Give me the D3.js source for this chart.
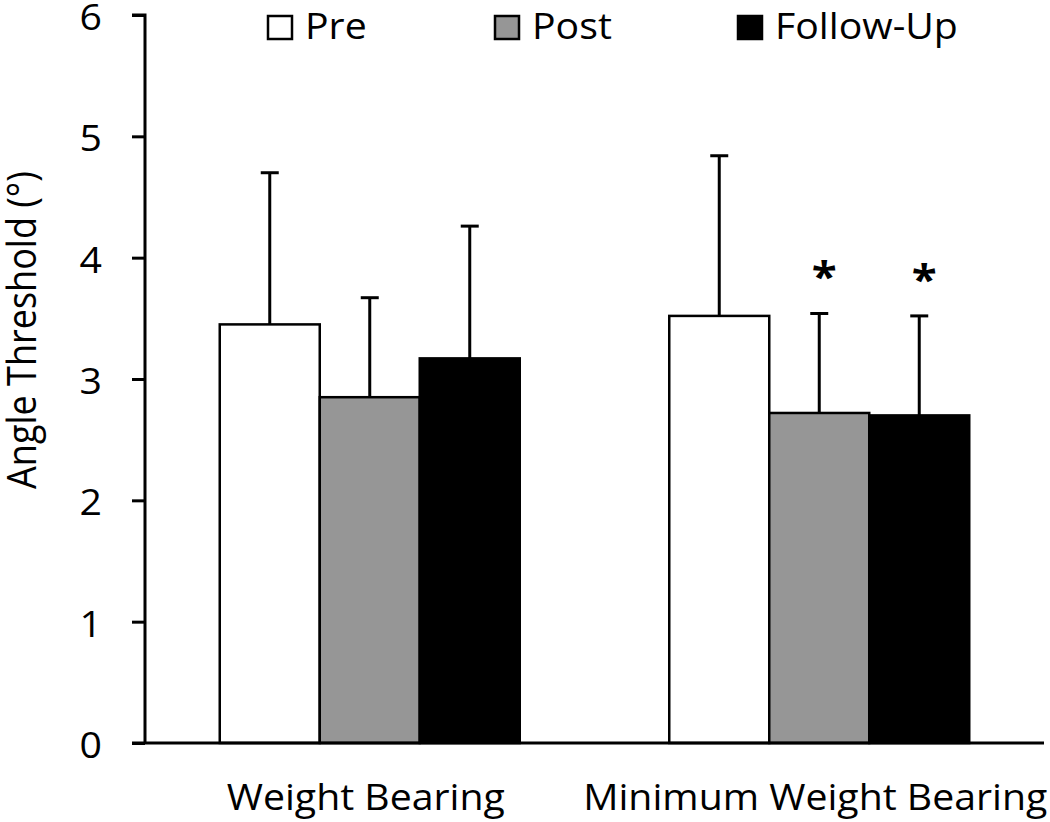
<!DOCTYPE html>
<html>
<head>
<meta charset="utf-8">
<script src="https://cdn.jsdelivr.net/npm/d3@7/dist/d3.min.js"></script>
<style>
  html, body { margin: 0; padding: 0; background: #fff; }
  svg { display: block; }
  text { font-family: "Open Sans", "Noto Sans", sans-serif; fill: #000; }
</style>
</head>
<body>
<svg id="chart" width="1050" height="822"></svg>
<script>
// ---- data ----
const categories = ["Weight Bearing", "Minimum Weight Bearing"];
const seriesNames = ["Pre", "Post", "Follow-Up"];
const preValues = [3.45, 3.52];
const postValues = [2.85, 2.72];
const followUpValues = [3.17, 2.70];
const preErrTop = [4.70, 4.84];
const postErrTop = [3.67, 3.54];
const followUpErrTop = [4.26, 3.52];
const significant = [[false, false, false], [false, true, true]];
const yTicks = [0, 1, 2, 3, 4, 5, 6];
const yTitle = "Angle Threshold (°)";

const seriesColors = ["#ffffff", "#969696", "#000000"];

const rows = categories.map((c, i) => ({
  category: c,
  bars: [
    { series: seriesNames[0], value: preValues[i], err: preErrTop[i], sig: significant[i][0] },
    { series: seriesNames[1], value: postValues[i], err: postErrTop[i], sig: significant[i][1] },
    { series: seriesNames[2], value: followUpValues[i], err: followUpErrTop[i], sig: significant[i][2] }
  ]
}));

// ---- layout ----
const svg = d3.select("#chart");
const axisX = 145, plotRight = 1044, plotTop = 15, plotBottom = 743;
const FS = 36;
const SX = 1.09; // horizontal stretch of lettering

const y = d3.scaleLinear().domain([0, 6]).range([plotBottom, plotTop]);
const x0 = d3.scaleBand().domain(categories).range([axisX, plotRight])
  .paddingInner(0.3326).paddingOuter(0.1663);
const x1 = d3.scaleBand().domain(seriesNames).range([0, x0.bandwidth()]).padding(0);
const color = d3.scaleOrdinal().domain(seriesNames).range(seriesColors);

// bars
const groups = svg.append("g").selectAll("g").data(rows).join("g")
  .attr("transform", d => `translate(${x0(d.category)},0)`);

groups.selectAll("line.err").data(d => d.bars).join("line")
  .attr("class", "err")
  .attr("x1", d => x1(d.series) + x1.bandwidth() / 2)
  .attr("x2", d => x1(d.series) + x1.bandwidth() / 2)
  .attr("y1", d => y(d.value))
  .attr("y2", d => y(d.err))
  .attr("stroke", "#000").attr("stroke-width", 3);
groups.selectAll("line.cap").data(d => d.bars).join("line")
  .attr("class", "cap")
  .attr("x1", d => x1(d.series) + x1.bandwidth() / 2 - 9)
  .attr("x2", d => x1(d.series) + x1.bandwidth() / 2 + 9)
  .attr("y1", d => y(d.err))
  .attr("y2", d => y(d.err))
  .attr("stroke", "#000").attr("stroke-width", 3);

groups.selectAll("rect").data(d => d.bars).join("rect")
  .attr("x", d => x1(d.series))
  .attr("y", d => y(d.value))
  .attr("width", x1.bandwidth())
  .attr("height", d => y(0) - y(d.value))
  .attr("fill", d => color(d.series))
  .attr("stroke", "#000").attr("stroke-width", 2.5);

// significance asterisks
groups.selectAll("g.sig").data(d => d.bars.filter(b => b.sig)).join("g")
  .attr("class", "sig")
  .attr("transform", d => `translate(${x1(d.series) + x1.bandwidth() / 2 + 5},${y(d.err) - 22}) scale(${SX},1)`)
  .append("text")
  .attr("text-anchor", "middle")
  .attr("font-size", 42)
  .attr("font-weight", "bold")
  .text("*");

// y axis
const yAxis = d3.axisLeft(y).tickValues(yTicks).tickSize(13).tickPadding(0).tickFormat(d3.format("d"));
const gy = svg.append("g").attr("transform", `translate(${axisX},0)`).call(yAxis);
gy.select(".domain").attr("stroke", "#000").attr("stroke-width", 3)
  .attr("d", `M-13,${plotTop}H0V${plotBottom}`);
gy.selectAll(".tick line").attr("stroke", "#000").attr("stroke-width", 3);
gy.selectAll(".tick text").remove();
gy.selectAll(".tick").append("g")
  .attr("transform", `translate(-43,0) scale(${SX},1)`)
  .append("text")
  .attr("text-anchor", "end")
  .attr("dy", "0.4em")
  .attr("font-size", FS)
  .text(d => d);

// x axis (line only)
const xAxis = d3.axisBottom(x0).tickSize(0).tickPadding(0);
const gx = svg.append("g").attr("transform", `translate(0,${plotBottom})`).call(xAxis);
gx.select(".domain").attr("stroke", "#000").attr("stroke-width", 3)
  .attr("d", `M${axisX - 13},0H${plotRight}`);
gx.selectAll(".tick text").remove();
gx.selectAll(".tick").append("g")
  .attr("transform", `translate(-4,67) scale(${SX},1)`)
  .append("text")
  .attr("text-anchor", "middle")
  .attr("font-size", FS)
  .text(d => d);

// y title
svg.append("g")
  .attr("transform", `translate(36,330) scale(${SX},1) rotate(-90)`)
  .append("text")
  .attr("text-anchor", "middle")
  .attr("font-size", FS)
  .text(yTitle);

// legend
const legendX = [268, 495, 738];
const legend = svg.append("g").selectAll("g").data(seriesNames).join("g")
  .attr("transform", (d, i) => `translate(${legendX[i]},16)`);
legend.append("rect")
  .attr("width", 24).attr("height", 23)
  .attr("fill", d => color(d))
  .attr("stroke", "#000").attr("stroke-width", 2.5);
legend.append("g")
  .attr("transform", `translate(37,23) scale(${SX},1)`)
  .append("text")
  .attr("font-size", FS)
  .text(d => d);
</script>
</body>
</html>
